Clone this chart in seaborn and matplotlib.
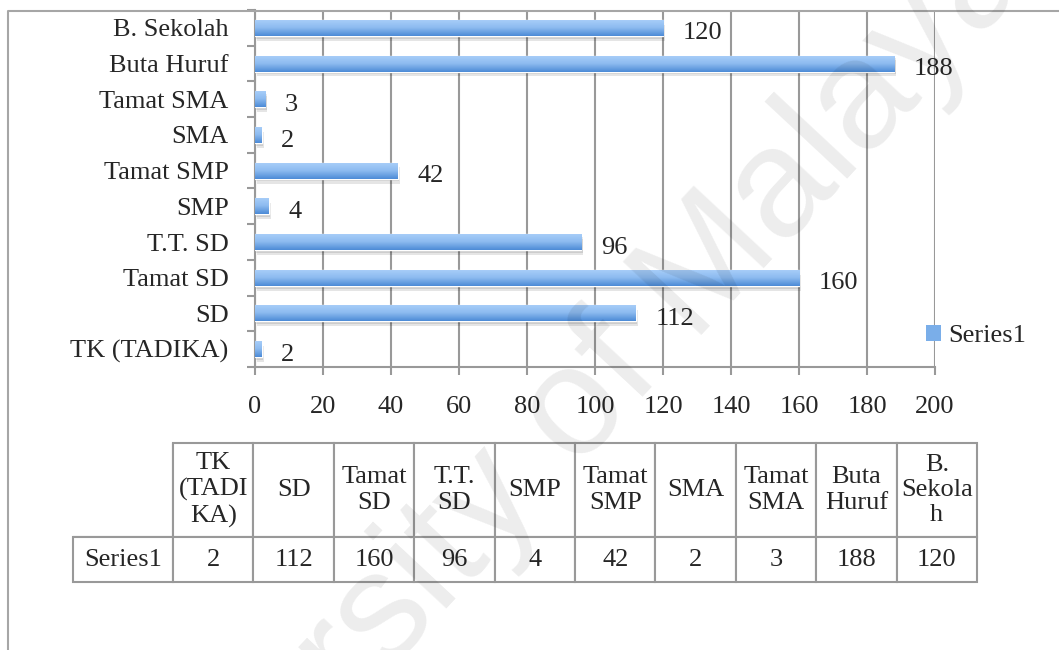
import numpy as np
import pandas as pd
import seaborn as sns
import matplotlib.pyplot as plt
import matplotlib.patheffects as pe
from matplotlib.colors import LinearSegmentedColormap
from matplotlib.patches import Patch
from matplotlib.lines import Line2D

# data (order as in the data table)
categories = ['TK (TADIKA)', 'SD', 'Tamat SD', 'T.T. SD', 'SMP', 'Tamat SMP',
              'SMA', 'Tamat SMA', 'Buta Huruf', 'B. Sekolah']
table_headers = ['TK\n(TADI\nKA)', 'SD', 'Tamat\nSD', 'T.T.\nSD', 'SMP', 'Tamat\nSMP',
                 'SMA', 'Tamat\nSMA', 'Buta\nHuruf', 'B.\nSekola\nh']
values = [2, 112, 160, 96, 4, 42, 2, 3, 188, 120]
series_name = 'Series1'
x_ticks = [0, 20, 40, 60, 80, 100, 120, 140, 160, 180, 200]

df = pd.DataFrame({'Kategori': categories, 'Jumlah': values})

sns.set_style('white')
plt.rcParams['font.family'] = ['Liberation Serif', 'DejaVu Serif']

W, H = 1059, 650
FS = 19
GRID = '#999999'

fig = plt.figure(figsize=(W / 100, H / 100), dpi=100)
ax = fig.add_axes([255 / W, 1 - 367 / H, 680 / W, 357 / H])

order = categories[::-1]
sns.barplot(data=df, x='Jumlah', y='Kategori', order=order, orient='h',
            width=0.45, color='#6fa5e6', saturation=1, ax=ax, zorder=3)

# gradient fill + soft shadow like the Excel bars
grad_cmap = LinearSegmentedColormap.from_list('bar', ['#aacff9', '#8dbbf0', '#4d8bd6'])
grad = np.linspace(0, 1, 64).reshape(-1, 1)
for p in list(ax.patches):
    x0, y0, w, h = p.get_x(), p.get_y(), p.get_width(), p.get_height()
    p.set_path_effects([pe.SimplePatchShadow(offset=(1.5, -3.5), shadow_rgbFace='black', alpha=0.10),
                        pe.SimplePatchShadow(offset=(1, -2), shadow_rgbFace='black', alpha=0.10),
                        pe.Normal()])
    im = ax.imshow(grad, cmap=grad_cmap, aspect='auto', origin='upper',
                   extent=(x0, x0 + w, y0 + h, y0), zorder=4)
    im.set_clip_path(p)

ax.set_xlim(0, 200)
ax.set_ylim(len(order) - 0.5, -0.5)

# value labels
for cat, v in zip(categories, values):
    ax.annotate(str(v), xy=(v, order.index(cat)), xytext=(14, -4), textcoords='offset points',
                ha='left', va='center', fontsize=FS, zorder=5)

# axes styling
ax.set_xticks(x_ticks)
ax.set_yticks(np.arange(len(order) + 1) - 0.5)
ax.set_yticklabels([])
ax.set_yticks(np.arange(len(order)), minor=True)
ax.set_yticklabels(order, minor=True)
ax.tick_params(axis='y', which='major', direction='out', length=6, width=1.5, color=GRID, left=True)
ax.tick_params(axis='y', which='minor', length=0, pad=19, labelsize=FS)
ax.tick_params(axis='x', direction='out', length=6, width=1.5, color=GRID, bottom=True,
               pad=15, labelsize=FS)
ax.grid(axis='x', color=GRID, lw=1.5)
ax.grid(axis='y', visible=False)
ax.set_axisbelow(True)
ax.set_xlabel('')
ax.set_ylabel('')
for s in ['top', 'right']:
    ax.spines[s].set_visible(False)
for s in ['left', 'bottom']:
    ax.spines[s].set_color(GRID)
    ax.spines[s].set_linewidth(1.5)

ax.legend(handles=[Patch(facecolor='#7aaee9', edgecolor='none', label=series_name)],
          loc='center left', bbox_to_anchor=(926 / W, 1 - 336 / H), bbox_transform=fig.transFigure,
          frameon=False, handlelength=0.55, handleheight=0.55, handletextpad=0.3,
          borderpad=0, borderaxespad=0, fontsize=FS)

# data table below the chart (first column holds the series name)
tax = fig.add_axes([73 / W, 1 - 582 / H, (977 - 73) / W, (582 - 443) / H])
tax.axis('off')
tbl = tax.table(cellText=[[series_name] + [str(v) for v in values]],
                colLabels=[''] + table_headers, cellLoc='center', bbox=[0, 0, 1, 1])
tbl.auto_set_font_size(False)
tbl.set_fontsize(FS)
for (r, c), cell in tbl.get_celld().items():
    cell.set_width(100 if c == 0 else 80.4)
    cell.set_height(94 if r == 0 else 45)
    cell.set_edgecolor(GRID)
    cell.set_linewidth(1.5)
    cell.get_text().set_fontsize(FS)
    if r == 0 and c == 0:
        cell.visible_edges = 'BR'

# chart frame (top and left edges)
fig.add_artist(Line2D([8 / W, 8 / W, 1], [0, 1 - 10.5 / H, 1 - 10.5 / H],
                      transform=fig.transFigure, color='#a6a6a6', lw=1.5))

# watermark
fig.text(528 / W, 1 - 462 / H, 'University of Malaya', rotation=47, rotation_mode='anchor',
         fontsize=112, family='Liberation Sans', color='black', alpha=0.075,
         ha='center', va='center', zorder=10)

fig.savefig('out.png', dpi=100)
